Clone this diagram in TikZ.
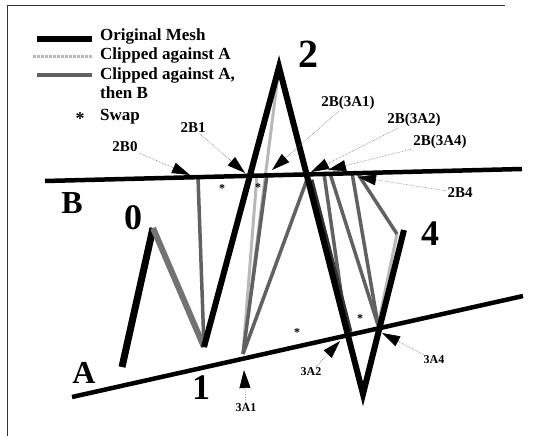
\documentclass[tikz,border=0pt]{standalone}
\usepackage{fontspec}
\setmainfont{Liberation Serif}
\usetikzlibrary{arrows.meta}
\begin{document}
\begin{tikzpicture}[x=1pt,y=-1pt,font=\bfseries,
 mesh/.style={line width=6pt,black},
 clipA/.style={line width=3pt,black!28},
 clipAB/.style={line width=3.5pt,black!62},
 plane/.style={line width=4.5pt,black},
 vlabel/.style={font=\fontsize{36}{36}\selectfont\bfseries,inner sep=0pt},
 tag/.style={font=\fontsize{15}{15}\selectfont\bfseries,inner sep=1pt},
 smalltag/.style={font=\fontsize{12}{12}\selectfont\bfseries,inner sep=1pt},
 swap/.style={font=\fontsize{12}{12}\selectfont\bfseries,inner sep=0pt},
 pointer/.style={-{Triangle[length=18pt,width=11pt,color=black]},line width=0.6pt,densely dotted,black!55},
 legend/.style={font=\fontsize{17}{19}\selectfont\bfseries,anchor=west,align=left,inner sep=0pt}]
\useasboundingbox (0,0) rectangle (543,436);
\draw[line width=0.8pt,black!80] (505,5) -- (7,5) -- (7,436);
% legend
\draw[mesh,line width=5.5pt] (37,39) -- (92,39);
\node[legend] (lmesh) at (100,36) {Original Mesh};
\draw[clipA,densely dotted] (33,57) -- (92,57);
\node[legend] (lclipa) at (100,55) {Clipped against A};
\draw[clipAB] (37,75) -- (92,75);
\node[legend] (lclipab) at (100,83) {Clipped against A,\\then B};
\node[swap,font=\fontsize{18}{18}\selectfont\bfseries] (lstar) at (80,119) {*};
\node[legend] (lswap) at (100,117) {Swap};
% mesh vertices and clip points
\coordinate (s) at (122,367);
\coordinate (v0) at (153,228);
\coordinate (v1) at (204,347);
\coordinate (v2) at (279,67);
\coordinate (v3) at (363,394);
\coordinate (v4) at (404,230);
\coordinate (a1) at (243,354);
\coordinate (a2) at (347,334);
\coordinate (a4) at (378,325);
\coordinate (b0) at (198,177);
\coordinate (bl) at (257,175);
\coordinate (bm) at (267,175);
\coordinate (b31) at (309,174);
\coordinate (b32) at (324,173.5);
\coordinate (b34) at (330,173.3);
\coordinate (b4a) at (352,172.6);
\coordinate (b4) at (357,172.5);
\coordinate (c4) at (397,234);
\coordinate (Bw) at (45,181);
\coordinate (Be) at (522,169);
\coordinate (Aw) at (72,397);
\coordinate (Ae) at (523,296);
% clipped against A
\draw[clipA] (a1) -- (v2);
\draw[clipA] (a1) -- (bl);
\draw[clipA] (c4) -- (a4);
% clipped against A, then B
\draw[clipAB] (b0) -- (v1);
\draw[clipAB] (a1) -- (bm);
\draw[clipAB] (a1) -- (b31);
\draw[clipAB] (b32) -- (a2);
\draw[clipAB] (b34) -- (a4);
\draw[clipAB] (b4a) -- (a4);
\draw[clipAB] (b4) -- (c4);
\draw[clipAB,line width=5pt,black!80] (311,180) -- (350,332);
% original mesh
\draw[mesh,line width=7pt] (s) -- (v0);
\draw[line width=6pt,black!55] (v0) -- (v1);
\draw[mesh,line join=miter] (v1) -- (v2) -- (v3) -- (v4);
% planes
\draw[plane] (Bw) -- (Be);
\draw[plane] (Aw) -- (Ae);
% swaps
\node[swap] (sw1) at (222,189) {*};
\node[swap] (sw2) at (258,188) {*};
\node[swap] (sw3) at (297,333) {*};
\node[swap] (sw4) at (360,319) {*};
% labels
\node[vlabel,font=\fontsize{40}{40}\selectfont\bfseries] (n2) at (308,54) {2};
\node[vlabel] (n0) at (133,218) {0};
\node[vlabel] (n1) at (201,388) {1};
\node[vlabel] (n4) at (430,234) {4};
\node[vlabel,font=\fontsize{32}{32}\selectfont\bfseries] (nB) at (72,203) {B};
\node[vlabel,font=\fontsize{32}{32}\selectfont\bfseries] (nA) at (84,373) {A};
% pointers
\coordinate (p2b0) at (190,175);
\coordinate (p2b1) at (245,173);
\coordinate (p31) at (272,170);
\coordinate (p32) at (311,172);
\coordinate (p34) at (328,170);
\coordinate (p2b4) at (358,177);
\coordinate (p3a1) at (244,370);
\coordinate (p3a2) at (340,341);
\coordinate (p3a4) at (382,333);
\node[tag] (t2b0) at (125,147) {2B0};
\node[tag] (t2b1) at (193,128) {2B1};
\node[tag] (t31) at (348,103) {2B(3A1)};
\node[tag] (t32) at (414,120) {2B(3A2)};
\node[tag] (t34) at (440,142) {2B(3A4)};
\node[tag] (t2b4) at (460,193) {2B4};
\node[smalltag] (t3a1) at (246,408) {3A1};
\node[smalltag] (t3a2) at (311,372) {3A2};
\node[smalltag] (t3a4) at (434,360) {3A4};
\draw[pointer] (t2b0) -- (p2b0);
\draw[pointer] (t2b1) -- (p2b1);
\draw[pointer] (t31) -- (p31);
\draw[pointer] (t32) -- (p32);
\draw[pointer] (t34) -- (p34);
\draw[pointer] (t2b4) -- (p2b4);
\draw[pointer] (t3a1) -- (p3a1);
\draw[pointer] (t3a2) -- (p3a2);
\draw[pointer] (t3a4) -- (p3a4);
\end{tikzpicture}
\end{document}
